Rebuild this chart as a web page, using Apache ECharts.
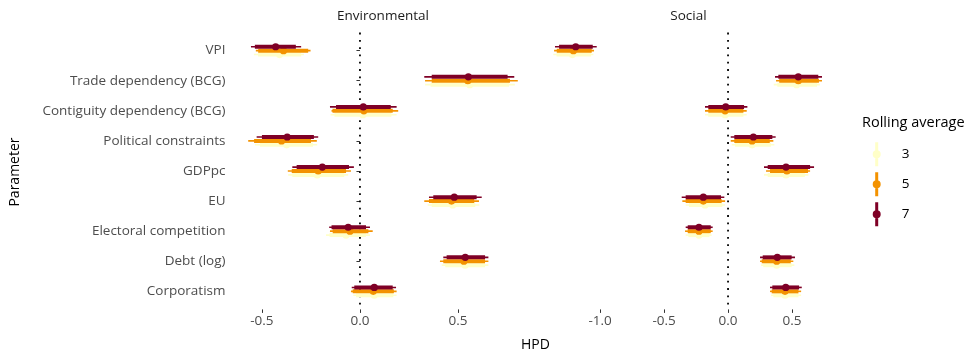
<!DOCTYPE html>
<html><head><meta charset="utf-8">
<script src="https://cdn.jsdelivr.net/npm/echarts@6/dist/echarts.min.js"></script>
<style>html,body{margin:0;padding:0;background:#fff}#c{width:972px;height:359px}</style>
</head><body><div id="c"></div>
<script>
const parameters = ['VPI','Trade dependency (BCG)','Contiguity dependency (BCG)','Political constraints','GDPpc','EU','Electoral competition','Debt (log)','Corporatism'];
const panels = ['Environmental','Social'];
const rollingWindows = ['3','5','7'];
const rollingColors = ['#FFFFC8','#F39200','#7F0026'];
// rows: [point, outerLo, innerLo, innerHi, outerHi]
const envRoll3 = [
  [-0.41,-0.541,-0.52,-0.30,-0.286],
  [0.56,0.332,0.36,0.76,0.79],
  [0.015,-0.15,-0.13,0.16,0.187],
  [-0.374,-0.536,-0.51,-0.24,-0.218],
  [-0.218,-0.366,-0.345,-0.08,-0.06],
  [0.473,0.345,0.366,0.588,0.609],
  [-0.071,-0.173,-0.155,0.03,0.051],
  [0.536,0.417,0.435,0.638,0.655],
  [0.073,-0.034,-0.02,0.17,0.187]
];
const envRoll5 = [
  [-0.39,-0.531,-0.519,-0.264,-0.252],
  [0.55,0.332,0.366,0.765,0.805],
  [0.02,-0.145,-0.14,0.167,0.195],
  [-0.40,-0.57,-0.54,-0.25,-0.22],
  [-0.213,-0.368,-0.348,-0.071,-0.046],
  [0.467,0.328,0.352,0.583,0.607],
  [-0.051,-0.153,-0.139,0.043,0.065],
  [0.53,0.408,0.425,0.638,0.655],
  [0.068,-0.046,-0.037,0.173,0.187]
];
const envRoll7 = [
  [-0.43,-0.556,-0.536,-0.327,-0.30],
  [0.553,0.328,0.366,0.753,0.787],
  [0.017,-0.153,-0.122,0.157,0.187],
  [-0.371,-0.527,-0.50,-0.235,-0.213],
  [-0.192,-0.345,-0.323,-0.056,-0.031],
  [0.481,0.352,0.374,0.595,0.621],
  [-0.06,-0.157,-0.145,0.031,0.051],
  [0.537,0.425,0.442,0.638,0.655],
  [0.073,-0.042,-0.029,0.167,0.184]
];
const socRoll3 = [
  [-1.216,-1.365,-1.34,-1.07,-1.052],
  [0.536,0.357,0.385,0.695,0.717],
  [-0.023,-0.18,-0.155,0.12,0.146],
  [0.188,0.029,0.055,0.335,0.362],
  [0.453,0.281,0.31,0.60,0.628],
  [-0.18,-0.331,-0.305,-0.045,-0.023],
  [-0.227,-0.331,-0.31,-0.145,-0.128],
  [0.38,0.258,0.275,0.497,0.518],
  [0.445,0.336,0.354,0.55,0.571]
];
const socRoll5 = [
  [-1.208,-1.359,-1.338,-1.065,-1.047],
  [0.549,0.375,0.40,0.71,0.734],
  [-0.023,-0.18,-0.154,0.12,0.146],
  [0.188,0.021,0.049,0.326,0.354],
  [0.46,0.297,0.328,0.625,0.641],
  [-0.193,-0.357,-0.331,-0.05,-0.023],
  [-0.227,-0.336,-0.315,-0.135,-0.12],
  [0.38,0.25,0.263,0.49,0.51],
  [0.445,0.328,0.341,0.55,0.571]
];
const socRoll7 = [
  [-1.19,-1.352,-1.32,-1.057,-1.026],
  [0.549,0.367,0.393,0.705,0.734],
  [-0.018,-0.18,-0.154,0.125,0.151],
  [0.198,0.021,0.049,0.346,0.372],
  [0.453,0.281,0.31,0.641,0.672],
  [-0.193,-0.362,-0.331,-0.055,-0.029],
  [-0.227,-0.331,-0.315,-0.135,-0.12],
  [0.385,0.25,0.271,0.497,0.523],
  [0.451,0.328,0.346,0.555,0.576]
];
const envTicks = [-0.5, 0.0, 0.5];
const socTicks = [-1.0, -0.5, 0.0, 0.5];
const envRange = [-0.645, 0.880];
const socRange = [-1.473, 0.863];

const panelData = [[envRoll3, envRoll5, envRoll7],[socRoll3, socRoll5, socRoll7]];
const FONT = '"Open Sans"';
const dodge = 0.13;

function makeRender(offset){
  return function(params, api){
    const y = api.value(5) + offset;
    const p = api.coord([api.value(0), y]);
    const ol = api.coord([api.value(1), y]);
    const il = api.coord([api.value(2), y]);
    const ih = api.coord([api.value(3), y]);
    const oh = api.coord([api.value(4), y]);
    const color = api.visual('color');
    return {type:'group', children:[
      {type:'line', shape:{x1:ol[0],y1:ol[1],x2:oh[0],y2:oh[1]}, style:{stroke:color,lineWidth:1.6}},
      {type:'line', shape:{x1:il[0],y1:il[1],x2:ih[0],y2:ih[1]}, style:{stroke:color,lineWidth:4}},
      {type:'circle', shape:{cx:p[0],cy:p[1],r:3.6}, style:{fill:color}}
    ]};
  };
}

const gridW = 299, gridTop = 32.6, gridH = 276.8;
const grids = [{left:233.5, top:gridTop, width:gridW, height:gridH},{left:539.5, top:gridTop, width:gridW, height:gridH}];
const ranges = [envRange, socRange];
const ticks = [envTicks, socTicks];

const xAxes = grids.map((g,i)=>({
  type:'value', gridIndex:i, min:ranges[i][0], max:ranges[i][1],
  axisLine:{show:false}, splitLine:{show:false},
  axisTick:{show:true, customValues:ticks[i], length:3.5, lineStyle:{color:'#333',width:1}},
  axisLabel:{customValues:ticks[i], formatter:v=>v.toFixed(1), color:'#4D4D4D', fontSize:13.5, fontFamily:FONT, margin:5}
}));
const yAxes = grids.map((g,i)=>({
  type:'value', gridIndex:i, min:0.4, max:9.6, inverse:true,
  axisLine:{show:false}, splitLine:{show:false},
  axisTick:{show:i===0, customValues:parameters.map((p,k)=>k+1), length:3.5, lineStyle:{color:'#333',width:1}},
  axisLabel:{show:i===0, customValues:parameters.map((p,k)=>k+1), formatter:v=>parameters[Math.round(v)-1]||'', color:'#4D4D4D', fontSize:13.5, fontFamily:FONT, margin:8}
}));

const series = [];
panelData.forEach((sets, pi)=>{
  series.push({
    type:'line', xAxisIndex:pi, yAxisIndex:pi, silent:true, symbol:'none',
    data:[[0,0.4],[0,9.6]],
    lineStyle:{color:'#000', width:1.8, type:[1.8,5.5], cap:'butt'}, z:1
  });
  sets.forEach((rows, k)=>{
    series.push({
      type:'custom', name:rollingWindows[k], xAxisIndex:pi, yAxisIndex:pi,
      itemStyle:{color:rollingColors[k]},
      renderItem: makeRender((1-k)*dodge),
      encode:{x:[0,1,2,3,4], y:5},
      data: rows.map((r,j)=>r.concat([j+1])),
      z:2+k
    });
  });
});

const keyIcon = 'path://M3.5,0h3v8.5h-3z M5,8a4,4 0 1,1 0,8a4,4 0 1,1 0,-8z M3.5,15.5h3v8.5h-3z';

const option = {
  animation:false,
  backgroundColor:'#fff',
  textStyle:{fontFamily:FONT},
  title:[
    {text:panels[0], left:383, top:9, padding:0, textAlign:'center', textStyle:{fontSize:13.5, fontWeight:'normal', color:'#1A1A1A', fontFamily:FONT}},
    {text:panels[1], left:688.5, top:9, padding:0, textAlign:'center', textStyle:{fontSize:13.5, fontWeight:'normal', color:'#1A1A1A', fontFamily:FONT}},
    {text:'HPD', left:535.5, top:338, padding:0, textAlign:'center', textStyle:{fontSize:14, fontWeight:'normal', color:'#000', fontFamily:FONT}},
    {text:'Rolling average', left:862, top:115, padding:0, textStyle:{fontSize:14.5, fontWeight:'normal', color:'#000', fontFamily:FONT}}
  ],
  graphic:[{type:'text', x:15, y:172, rotation:Math.PI/2, style:{text:'Parameter', fill:'#000', font:'14px '+FONT, align:'center', verticalAlign:'middle'}}],
  legend:{
    orient:'vertical', left:872.7, top:142.3, padding:0, itemWidth:8, itemHeight:24, itemGap:6,
    data: rollingWindows.map(n=>({name:n, icon:keyIcon})),
    textStyle:{fontSize:13.5, color:'#000', fontFamily:FONT, padding:[0,0,0,16]}, selectedMode:false
  },
  grid:grids, xAxis:xAxes, yAxis:yAxes, series:series
};
const chart = echarts.init(document.getElementById('c'), null, {renderer:'canvas'});
chart.setOption(option);
</script></body></html>
